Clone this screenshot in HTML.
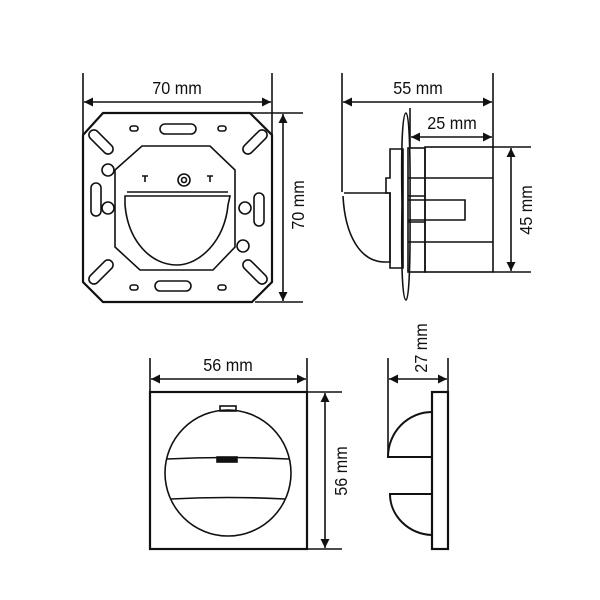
<!DOCTYPE html>
<html><head><style>body{margin:0;background:#fff}svg{display:block}text{font-family:"Liberation Sans",sans-serif;font-size:18px;fill:#111}</style></head><body>
<svg width="600" height="600" viewBox="0 0 600 600" xmlns="http://www.w3.org/2000/svg">
<defs><marker id="a" viewBox="0 0 10 10" refX="10" refY="5" markerWidth="11" markerHeight="9" markerUnits="userSpaceOnUse" orient="auto-start-reverse"><path d="M0,0L10,5L0,10z" fill="#111"/></marker></defs>
<g stroke="#111" fill="none" stroke-width="1.6">
<line x1="83" y1="73" x2="83" y2="135"/><line x1="272" y1="73" x2="272" y2="135"/>
<line x1="84" y1="102" x2="271" y2="102" marker-start="url(#a)" marker-end="url(#a)"/>
<line x1="250" y1="113" x2="303" y2="113"/><line x1="255" y1="302" x2="303" y2="302"/>
<line x1="283" y1="114" x2="283" y2="301" marker-start="url(#a)" marker-end="url(#a)"/>
<path d="M103,113H250L272,135V282L252,302H103L83,282V135Z" stroke-width="2.2"/>
<path d="M142,146H210L235,170V247L213,270H140L115,247V170Z"/>
<path d="M125,196H230L228,205C225,240 200,265 177,265C150,265 128,240 125,205Z"/>
<line x1="127" y1="192" x2="228" y2="192"/>
<circle cx="184" cy="180" r="6"/><circle cx="184" cy="180" r="2.5"/>
<path d="M142,176h6M145,176v6M207,176h6M210,176v6"/>
<rect x="96" y="127" width="10" height="30" rx="5" transform="rotate(-45 101 142)"/>
<rect x="250" y="127" width="10" height="30" rx="5" transform="rotate(45 255 142)"/>
<rect x="96" y="257" width="10" height="30" rx="5" transform="rotate(45 101 272)"/>
<rect x="250" y="257" width="10" height="30" rx="5" transform="rotate(-45 255 272)"/>
<rect x="160" y="124" width="36" height="10" rx="5"/><rect x="155" y="281" width="36" height="10" rx="5"/>
<rect x="91" y="183" width="10" height="33" rx="5"/><rect x="254" y="193" width="10" height="33" rx="5"/>
<rect x="130" y="126" width="8" height="5" rx="2.5"/><rect x="218" y="126" width="8" height="5" rx="2.5"/>
<rect x="130" y="285" width="8" height="5" rx="2.5"/><rect x="218" y="285" width="8" height="5" rx="2.5"/>
<circle cx="108" cy="170" r="6"/><circle cx="108" cy="208" r="6"/><circle cx="245" cy="208" r="6"/><circle cx="243" cy="246" r="6"/>
<line x1="342" y1="73" x2="342" y2="192"/><line x1="493" y1="73" x2="493" y2="148"/>
<line x1="343" y1="102" x2="492" y2="102" marker-start="url(#a)" marker-end="url(#a)"/>
<line x1="410" y1="108" x2="410" y2="148"/>
<line x1="411" y1="137" x2="492" y2="137" marker-start="url(#a)" marker-end="url(#a)"/>
<line x1="493" y1="147" x2="531" y2="147"/><line x1="493" y1="272" x2="531" y2="272"/>
<line x1="511" y1="148" x2="511" y2="271" marker-start="url(#a)" marker-end="url(#a)"/>
<rect x="425" y="147" width="68" height="125"/>
<line x1="425" y1="178" x2="493" y2="178"/><line x1="425" y1="242" x2="493" y2="242"/>
<rect x="408" y="148" width="17" height="124"/>
<path d="M408,178h17M408,196h17M408,222h17M408,242h17"/>
<path d="M408,200H465V220H408"/>
<path d="M390,149H403V268H390V193H386V178H390Z"/>
<path d="M406,113C400,113 402,200 402,205C402,210 400,300 406,300C411,300 410,210 410,205C410,200 411,113 406,113Z"/>
<path d="M344,193H390V262H385C360,262 345,235 343,196"/>
<line x1="150" y1="358" x2="150" y2="392"/><line x1="307" y1="358" x2="307" y2="392"/>
<line x1="151" y1="379" x2="306" y2="379" marker-start="url(#a)" marker-end="url(#a)"/>
<line x1="307" y1="392" x2="342" y2="392"/><line x1="307" y1="549" x2="342" y2="549"/>
<line x1="325" y1="393" x2="325" y2="548" marker-start="url(#a)" marker-end="url(#a)"/>
<rect x="150" y="392" width="157" height="157" stroke-width="2.2"/>
<circle cx="228" cy="473" r="63"/>
<rect x="220" y="406" width="16" height="5"/>
<path d="M167,459Q228,456 289,459M171,499Q228,496 285,499"/>
<rect x="217" y="457" width="20" height="5" fill="#111"/>
<line x1="388" y1="358" x2="388" y2="457"/><line x1="448" y1="358" x2="448" y2="392"/>
<line x1="389" y1="379" x2="447" y2="379" marker-start="url(#a)" marker-end="url(#a)"/>
<rect x="432" y="392" width="16" height="157" stroke-width="2.2"/>
<path d="M432,412A44,45 0 0 0 388,457H432" stroke-width="2"/>
<path d="M432,535A44,41 0 0 1 390,494H432" stroke-width="2"/>
</g>
<g text-anchor="middle">
<text transform="translate(177,94) scale(0.9,1)">70 mm</text>
<text transform="translate(418,94) scale(0.9,1)">55 mm</text>
<text transform="translate(452,129) scale(0.9,1)">25 mm</text>
<text transform="translate(228,371) scale(0.9,1)">56 mm</text>
<text transform="translate(304,205) rotate(-90) scale(0.9,1)">70 mm</text>
<text transform="translate(532,210) rotate(-90) scale(0.9,1)">45 mm</text>
<text transform="translate(347,471) rotate(-90) scale(0.9,1)">56 mm</text>
<text transform="translate(427,348) rotate(-90) scale(0.9,1)">27 mm</text>
</g>
</svg>
</body></html>
